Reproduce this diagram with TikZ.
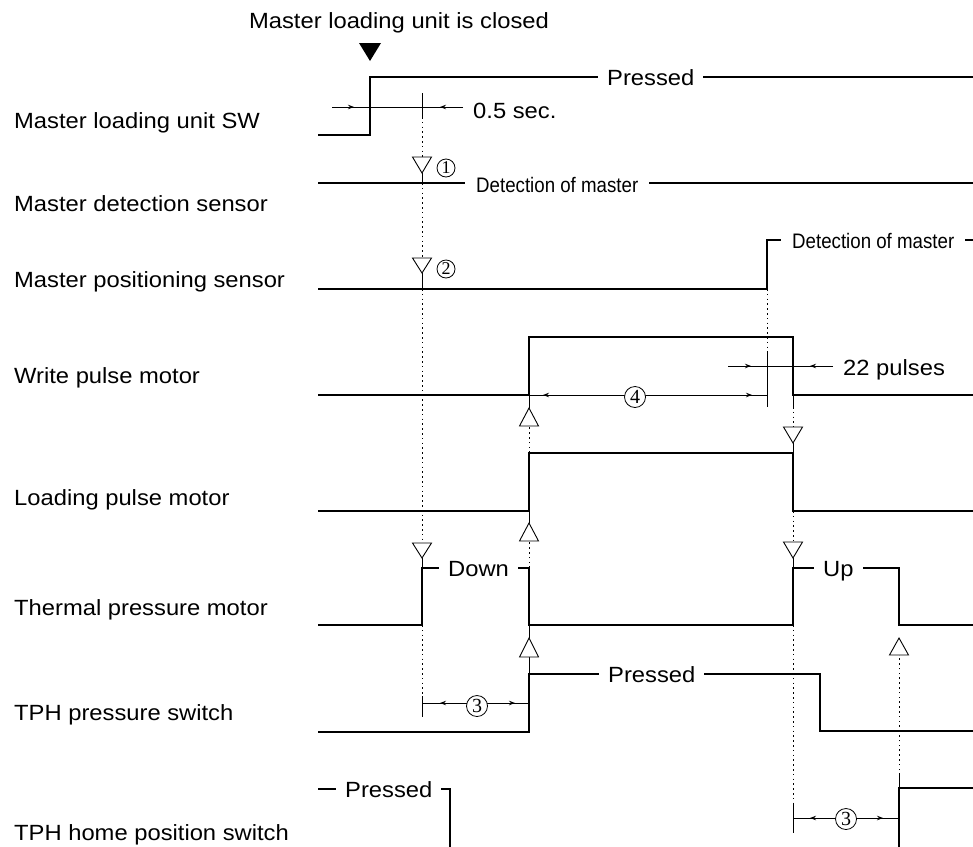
\documentclass[tikz,border=0pt]{standalone}
\usepackage{fontspec}
\setmainfont{Liberation Sans}[FakeStretch=1.08]
\newfontfamily\condfont{Liberation Sans}[FakeStretch=0.89]
\newfontfamily\serifnum{Liberation Serif}
\usetikzlibrary{arrows.meta}
\newcommand\tdown[3]{\draw[tri] (#1-9.5,#2) -- (#1+9.5,#2) -- (#1,#3) -- cycle;}
\newcommand\tup[3]{\draw[tri] (#1-9.5,#2) -- (#1+9.5,#2) -- (#1,#3) -- cycle;}
\begin{document}
\begin{tikzpicture}[x=1pt,y=-1pt,
  sig/.style={line width=2.6pt, line cap=butt, line join=miter},
  fine/.style={line width=0.9pt},
  dots/.style={line width=0.9pt, dash pattern=on 1.6pt off 3.2pt},
  dimarr/.style={line width=0.9pt, -{Stealth[length=6pt,width=4.5pt]}},
  lbl/.style={anchor=base west, inner sep=0pt, font=\fontsize{22}{26}\selectfont},
  intext/.style={anchor=base west, fill=white, inner xsep=9pt, inner ysep=0pt, font=\fontsize{22}{26}\selectfont},
  cond/.style={anchor=base west, fill=white, inner xsep=11pt, inner ysep=0pt, font=\condfont\fontsize{21}{25}\selectfont},
  num/.style={circle, draw, line width=0.8pt, fill=white, minimum size=18pt, inner sep=0pt, font=\serifnum\fontsize{18}{18}\selectfont},
  bignum/.style={num, minimum size=21pt, font=\serifnum\fontsize{20}{20}\selectfont},
  tri/.style={draw, line width=0.9pt, fill=white}]
\useasboundingbox (0,0) rectangle (973,846);
\begin{scope}
\clip (0,0) rectangle (973,846);

% ---------- left labels ----------
\node[lbl] (l1) at (14,128) {Master loading unit SW};
\node[lbl] (l2) at (14,211) {Master detection sensor};
\node[lbl] (l3) at (14,287) {Master positioning sensor};
\node[lbl] (l4) at (14,383) {Write pulse motor};
\node[lbl] (l5) at (14,505) {Loading pulse motor};
\node[lbl] (l6) at (14,615) {Thermal pressure motor};
\node[lbl] (l7) at (14,720) {TPH pressure switch};
\node[lbl] (l8) at (14,840) {TPH home position switch};

% ---------- title ----------
\node[lbl, anchor=base] (title) at (399,28) {Master loading unit is closed};
\fill (359,43) -- (381,43) -- (370,61) -- cycle;

% ---------- dotted guide lines ----------
\draw[dots] (422,117) -- (422,157);
\draw[fine] (422,173) -- (422,183);
\draw[dots] (422,183) -- (422,258);
\draw[fine] (422,273) -- (422,289);
\draw[dots] (422,289) -- (422,543);
\draw[fine] (422,558) -- (422,568);
\draw[dots] (422,625) -- (422,696);

\draw[fine] (529,408) -- (529,395);
\draw[dots] (529,453) -- (529,426);
\draw[fine] (529,523) -- (529,511);
\draw[dots] (529,568) -- (529,541);
\draw[fine] (529,638) -- (529,625);
\draw[fine] (529,674) -- (529,657);

\draw[dots] (767,289) -- (767,352);

\draw[fine] (793,395) -- (793,407);
\draw[dots] (793,407) -- (793,427);
\draw[fine] (793,443) -- (793,453);
\draw[dots] (793,511) -- (793,542);
\draw[fine] (793,558) -- (793,568);
\draw[dots] (793,625) -- (793,803);

\draw[fine] (899,788) -- (899,775);
\draw[dots] (899,775) -- (899,655);

% ---------- triangles ----------
\tdown{422}{157}{173}
\tdown{422}{258}{273}
\tdown{422}{543}{558}
\tup{529}{426}{408}
\tup{529}{541}{523}
\tup{529}{657}{638}
\tdown{793}{427}{443}
\tdown{793}{542}{558}
\tup{899}{655}{638}

% ---------- waveforms ----------
% Master loading unit SW
\draw[sig] (318,135) -- (370,135) -- (370,77) -- (973,77);
\node[intext] (p1) at (598,85) {Pressed};
% Master detection sensor
\draw[sig] (318,183) -- (973,183);
\node[cond] (d1) at (465,192) {Detection of master};
% Master positioning sensor
\draw[sig] (318,289) -- (767,289) -- (767,240) -- (973,240);
\node[cond] (d2) at (781,248) {Detection of master};
% Write pulse motor
\draw[sig] (318,395) -- (529,395) -- (529,337) -- (793,337) -- (793,395) -- (973,395);
% Loading pulse motor
\draw[sig] (318,511) -- (529,511) -- (529,453) -- (793,453) -- (793,511) -- (973,511);
% Thermal pressure motor
\draw[sig] (318,625) -- (422,625) -- (422,568) -- (529,568) -- (529,625) -- (793,625) -- (793,568) -- (899,568) -- (899,625) -- (973,625);
\node[intext] (down) at (439,576) {Down};
\node[intext] (up) at (814,576) {Up};
% TPH pressure switch
\draw[sig] (318,732) -- (529,732) -- (529,674) -- (820,674) -- (820,731) -- (973,731);
\node[intext] (p2) at (599,682) {Pressed};
% TPH home position switch
\draw[sig] (318,789) -- (450,789) -- (450,850);
\node[intext] (p3) at (336,797) {Pressed};
\draw[sig] (899,850) -- (899,788) -- (973,788);

% ---------- dimensions ----------
% 0.5 sec
\draw[fine] (332,107) -- (463,107);
\draw[dimarr] (332,107) -- (354,107);
\draw[dimarr] (463,107) -- (440,107);
\draw[fine] (422,93) -- (422,117);
\node[lbl] (sec) at (473,118) {0.5 sec.};
% 22 pulses
\draw[fine] (728,366) -- (833,366);
\draw[dimarr] (728,366) -- (751,366);
\draw[dimarr] (833,366) -- (810,366);
\draw[fine] (767,352) -- (767,407);
\node[lbl] (p22) at (843,375) {22 pulses};
% (4)
\draw[fine] (529,395) -- (767,395);
\draw[dimarr] (620,395) -- (543,395);
\draw[dimarr] (650,395) -- (752,395);
% (3) upper
\draw[fine] (422,696) -- (422,717);
\draw[fine] (422,703) -- (529,703);
\draw[dimarr] (465,703) -- (440,703);
\draw[dimarr] (490,703) -- (515,703);
% (3) lower
\draw[fine] (793,803) -- (793,833);
\draw[fine] (793,818) -- (899,818);
\draw[dimarr] (835,818) -- (810,818);
\draw[dimarr] (858,818) -- (883,818);

% ---------- circled numbers ----------
\node[num] (c1) at (446,168) {1};
\node[num] (c2) at (446,269) {2};
\node[bignum] (c4) at (635,397) {4};
\node[bignum] (c3a) at (477,706) {3};
\node[bignum] (c3b) at (846,819) {3};
\end{scope}
\end{tikzpicture}
\end{document}
